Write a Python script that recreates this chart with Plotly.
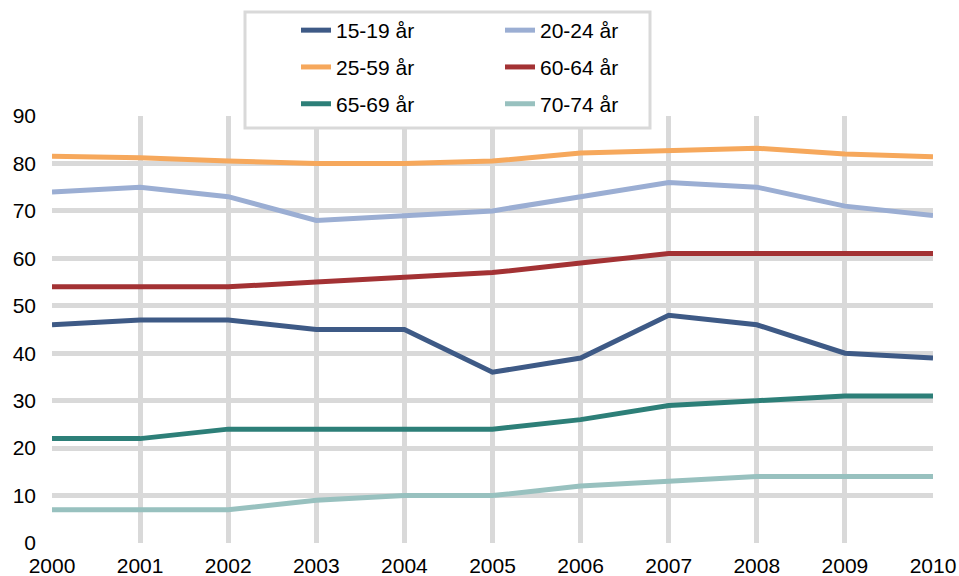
import plotly.graph_objects as go

years = [2000, 2001, 2002, 2003, 2004, 2005, 2006, 2007, 2008, 2009, 2010]

age_15_19 = [46, 47, 47, 45, 45, 36, 39, 48, 46, 40, 39]
age_20_24 = [74, 75, 73, 68, 69, 70, 73, 76, 75, 71, 69]
age_25_59 = [81.5, 81.2, 80.5, 80, 80, 80.5, 82.2, 82.8, 83.2, 82, 81.4]
age_60_64 = [54, 54, 54, 55, 56, 57, 59, 61, 61, 61, 61]
age_65_69 = [22, 22, 24, 24, 24, 24, 26, 29, 30, 31, 31]
age_70_74 = [7, 7, 7, 9, 10, 10, 12, 13, 14, 14, 14]

y_ticks = [0, 10, 20, 30, 40, 50, 60, 70, 80, 90]

series = [
    ("15-19 år", age_15_19, "#3E5A86", "legend"),
    ("20-24 år", age_20_24, "#9BAED3", "legend2"),
    ("25-59 år", age_25_59, "#F6A85C", "legend"),
    ("60-64 år", age_60_64, "#A33234", "legend2"),
    ("65-69 år", age_65_69, "#2D7F78", "legend"),
    ("70-74 år", age_70_74, "#98C1BF", "legend2"),
]

FONT = "Arial, Liberation Sans, sans-serif"
FS = 21

fig = go.Figure()
for name, vals, color, leg in series:
    fig.add_trace(go.Scatter(
        x=years, y=vals, name=name, mode="lines",
        line=dict(color=color, width=5),
        legend=leg, legendgroup=name,
    ))

L, R, T, B = 52, 26, 116, 33
W, H = 959, 576
pw = W - L - R
ph = H - T - B

def px(x):
    return (x - L) / pw

def py(y):
    return (H - B - y) / ph

leg_common = dict(
    orientation="v", xanchor="left", yanchor="top",
    bgcolor="rgba(0,0,0,0)", borderwidth=0,
    font=dict(family=FONT, size=FS, color="#000000"),
    tracegroupgap=6.5, traceorder="grouped",
)

fig.update_layout(
    width=W, height=H,
    margin=dict(l=L, r=R, t=T, b=B, autoexpand=False),
    paper_bgcolor="white", plot_bgcolor="white",
    font=dict(family=FONT, size=FS, color="#000000"),
    legend=dict(x=px(296), y=py(10), **leg_common),
    legend2=dict(x=px(500), y=py(10), **leg_common),
    shapes=[dict(
        type="rect", xref="paper", yref="paper",
        x0=px(245), x1=px(650), y0=py(128), y1=py(12),
        line=dict(color="#D9D9D9", width=3), fillcolor="white", layer="above",
    )],
    xaxis=dict(
        range=[2000, 2010], tickmode="array", tickvals=years,
        ticktext=[str(y) for y in years],
        showgrid=True, gridcolor="#D9D9D9", gridwidth=4.5,
        zeroline=False, showline=False, ticks="",
        ticklabelstandoff=8,
        tickfont=dict(family=FONT, size=FS, color="#000000"),
    ),
    yaxis=dict(
        range=[0, 90], tickmode="array", tickvals=y_ticks,
        showgrid=True, gridcolor="#D9D9D9", gridwidth=4.5,
        zeroline=False, showline=False, ticks="",
        ticklabelstandoff=15,
        tickfont=dict(family=FONT, size=FS, color="#000000"),
    ),
)

fig.write_html("out.html", config={"displayModeBar": False},
               post_script="document.body.style.margin='0';")
